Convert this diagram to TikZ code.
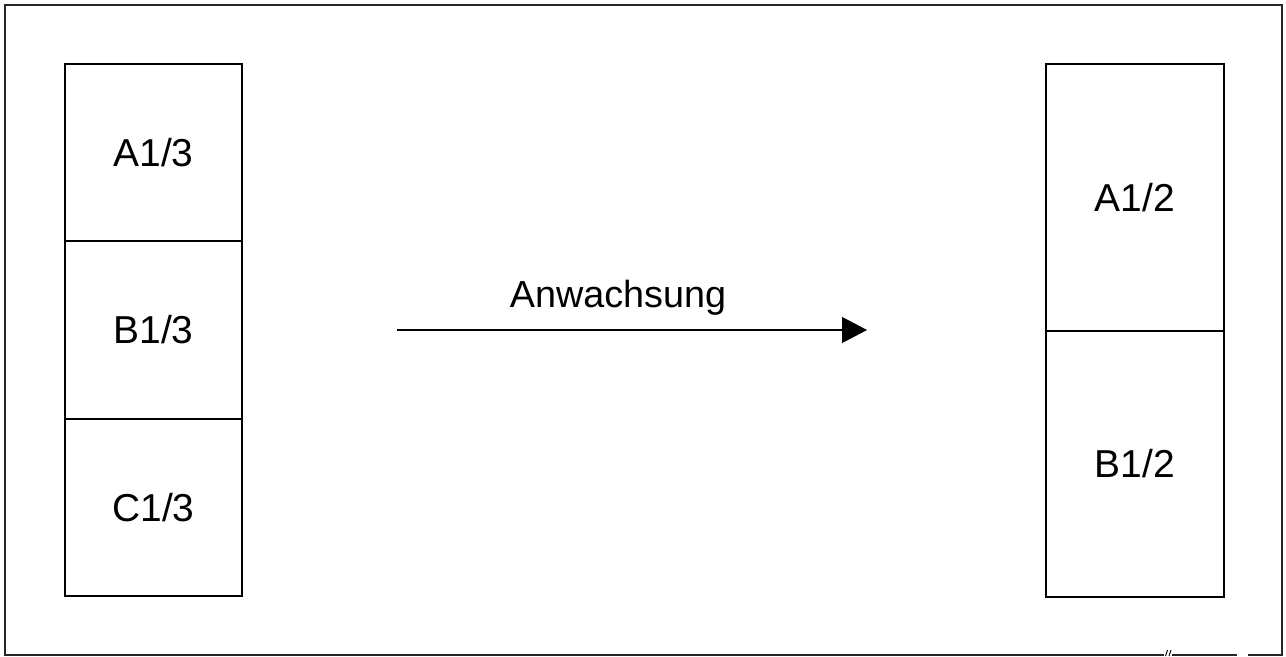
\documentclass[tikz,border=0pt]{standalone}
\usepackage{fontspec}
\setmainfont{Liberation Sans}
\usetikzlibrary{arrows.meta}
\begin{document}
\begin{tikzpicture}[x=0.75pt,y=-0.75pt,
  cell/.style={draw=black,line width=1.1pt,inner sep=0pt,minimum width=#1*0.75pt,
    font=\fontsize{29.2}{35}\selectfont},
  frame/.style={draw=black!85,line width=1.1pt},
  flow/.style={draw=black,line width=0.8pt,-{Triangle[length=18.75pt,width=19.5pt]}}]
\useasboundingbox (0,0) rectangle (1286,657);
% outer frame
\draw[frame] (1164,655) -- (5,655) -- (5,5) -- (1282,5) -- (1282,655) -- (1248,655);
\draw[frame] (1172,655) -- (1237,655);
\draw[black,line width=0.7pt] (1165.5,656) -- (1167.5,650) (1169,656) -- (1171,650);
% left stack
\node[cell=177,minimum height=177*0.75pt] (a3) at (153.5,152.5) {A1/3};
\node[cell=177,minimum height=178*0.75pt] (b3) at (153.5,330) {B1/3};
\node[cell=177,minimum height=177*0.75pt] (c3) at (153.5,507.5) {C1/3};
% right stack
\node[cell=178,minimum height=267*0.75pt] (a2) at (1135,197.5) {A1/2};
\node[cell=178,minimum height=266*0.75pt] (b2) at (1135,464) {B1/2};
% arrow
\coordinate (s) at (397,330);
\coordinate (e) at (867,330);
\draw[flow] (s) -- (e);
\node[anchor=base,inner sep=0pt,font=\fontsize{28.3}{34}\selectfont] (lbl) at (618,307) {Anwachsung};
\end{tikzpicture}
\end{document}
